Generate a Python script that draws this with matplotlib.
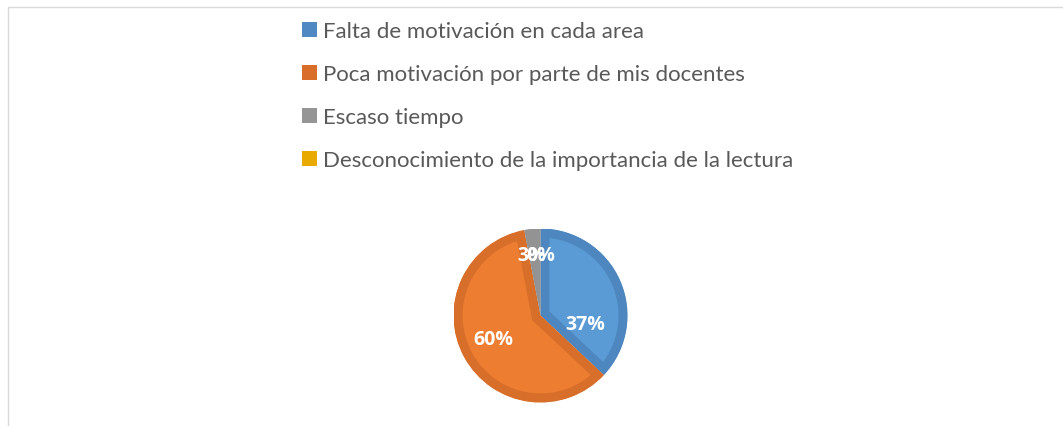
import matplotlib.pyplot as plt
from matplotlib.patches import Patch, Rectangle

# datos del grafico
categorias = ['Falta de motivación en cada area',
              'Poca motivación por parte de mis docentes',
              'Escaso tiempo',
              'Desconocimiento de la importancia de la lectura']
valores = [37, 60, 3, 0]
etiquetas = ['37%', '60%', '3%', '0%']

colores = ['#5B9BD5', '#ED7D31', '#A5A5A5', '#FFC000']
bordes = ['#4E87BF', '#D76E29', '#939393', '#E0A800']
leyenda_col = ['#4F88C2', '#D86E2A', '#959595', '#E8AA00']

fig = plt.figure(figsize=(10.63, 4.27), dpi=100)

# marco gris del grafico
fig.patches.append(Rectangle((8 / 1063, -0.1), 1.2, (427 - 8) / 427 + 0.1,
                             transform=fig.transFigure, fill=False,
                             edgecolor='#D9D9D9', linewidth=1))

# eje del pastel: centro ~ (540.5, 316.5), radio ~ 87 px
r = 87
cx, cy = 540.5, 316.5
ax = fig.add_axes([(cx - r) / 1063, (427 - cy - r) / 427, 2 * r / 1063, 2 * r / 427])

wedges, _ = ax.pie(valores, colors=colores, startangle=90, counterclock=False,
                   radius=1, wedgeprops=dict(linewidth=0))
ax.set_xlim(-1, 1)
ax.set_ylim(-1, 1)
ax.axis('off')

# borde interior mas oscuro (recortado a cada porcion)
for w, b in zip(wedges, bordes):
    w.set_edgecolor(b)
    w.set_linewidth(13)
    w.set_joinstyle('miter')
    w.set_clip_on(True)
    w.set_clip_path(w.get_path(), w.get_transform())

# etiquetas de porcentaje
pos = [(0.52, -0.1), (-0.54, -0.27), (-0.1, 0.70), (0.0, 0.70)]
for (x, y), t in zip(pos, etiquetas):
    ax.text(x, y, t, color='white', fontsize=14, fontweight='bold',
            ha='center', va='center', family='Open Sans')

# leyenda
handles = [Patch(facecolor=c, edgecolor='none') for c in leyenda_col]
leg = fig.legend(handles, categorias, loc='upper left',
                 bbox_to_anchor=(282 / 1063, 1 - 2 / 427), frameon=False,
                 prop=dict(family='Lato', size=16), labelspacing=1.04,
                 handlelength=0.68, handleheight=0.68, handletextpad=0.25)
for t in leg.get_texts():
    t.set_color('#595959')

fig.savefig('out.png', dpi=100)
